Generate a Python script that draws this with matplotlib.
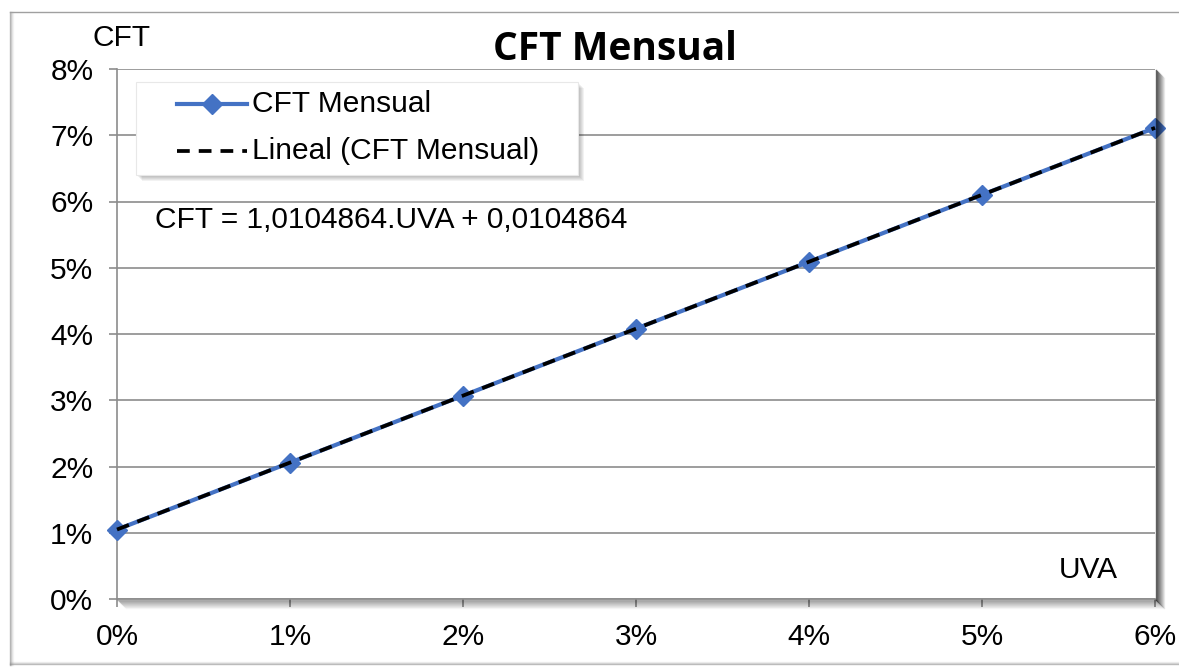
import matplotlib
matplotlib.use("Agg")
import matplotlib.pyplot as plt
from matplotlib.lines import Line2D
from matplotlib.patches import Rectangle
from matplotlib.ticker import FuncFormatter
import numpy as np

# data (values in %)
uva = [0, 1, 2, 3, 4, 5, 6]
cft = [1.0486, 2.0591, 3.0696, 4.0801, 5.0906, 6.1011, 7.1115]
series_name = "CFT Mensual"
trend_name = "Lineal (CFT Mensual)"
equation = "CFT = 1,0104864.UVA + 0,0104864"

plt.rcParams['font.family'] = ['Liberation Sans', 'DejaVu Sans']
FS = 21.5

W, H = 1179, 668
fig = plt.figure(figsize=(W / 100, H / 100), dpi=100)
fig.patch.set_facecolor("white")

def px(x, y):
    return x / W, 1 - y / H

# outer chart frame with soft shadow
for i, a in enumerate([0.55, 0.3, 0.15, 0.07]):
    fig.add_artist(Line2D([px(10 + i, 0)[0]] * 2, [px(0, 12)[1], px(0, 665)[1]],
                          transform=fig.transFigure, color="gray", alpha=a, lw=1))
fig.add_artist(Line2D([px(10, 0)[0], px(1179, 0)[0]], [px(0, 12)[1]] * 2,
                      transform=fig.transFigure, color="#a0a0a0", lw=1))
for i, a in enumerate([0.5, 0.25, 0.1]):
    fig.add_artist(Line2D([px(10, 0)[0], px(1179, 0)[0]], [px(0, 664 - i)[1]] * 2,
                          transform=fig.transFigure, color="gray", alpha=a, lw=1))

x0, x1, y0, y1 = 117, 1155, 69, 599
l, t = px(x0, y0)
r, b = px(x1, y1)
ax = fig.add_axes([l, b, r - l, t - b])

# plot area shadow (right and bottom)
for i in range(1, 10):
    a = 0.65 * (1 - i / 10)
    fig.add_artist(Line2D([px(x1 + i, 0)[0]] * 2, [px(0, y0 + i)[1], px(0, y1 + i)[1]],
                          transform=fig.transFigure, color="black", alpha=a, lw=1))
    fig.add_artist(Line2D([px(x0 + i, 0)[0], px(x1 + i, 0)[0]], [px(0, y1 + i)[1]] * 2,
                          transform=fig.transFigure, color="black", alpha=a * 0.5, lw=1))

# trend from data
k, c = np.polyfit(uva, cft, 1)
xt = np.array([uva[0], uva[-1]])

ax.plot(uva, cft, color="#4472C4", lw=3, marker="D", ms=10, zorder=3, clip_on=False)
ax.plot(xt, k * xt + c, color="black", lw=2.7, ls=(0, (3.4, 2.4)), zorder=4, clip_on=False)

ax.set_xlim(0, 6)
ax.set_ylim(0, 8)
ax.set_xticks(uva)
ax.set_yticks(range(0, 9))
pct = FuncFormatter(lambda v, p: "%d%%" % round(v))
ax.xaxis.set_major_formatter(pct)
ax.yaxis.set_major_formatter(pct)
ax.grid(True, axis="y", color="#8c8c8c", lw=1.2)
ax.set_axisbelow(True)
for s in ["top", "right"]:
    ax.spines[s].set_visible(False)
ax.spines["left"].set_color("#8c8c8c")
ax.spines["bottom"].set_color("#8c8c8c")
ax.spines["left"].set_linewidth(1.2)
ax.spines["bottom"].set_linewidth(1.2)
ax.tick_params(axis="both", colors="#8c8c8c", labelcolor="black", labelsize=FS,
               length=6, width=1.2, direction="out")
ax.tick_params(axis="y", pad=11)
ax.tick_params(axis="x", pad=11)

fig.text(615 / W, 1 - 50 / H, "CFT Mensual", ha="center", va="center",
         fontsize=28, fontweight="bold", family=["Open Sans", "DejaVu Sans"])
fig.text(93 / W, 1 - 38 / H, "CFT", ha="left", va="center", fontsize=FS)
fig.text(1118 / W, 1 - 570 / H, "UVA", ha="right", va="center", fontsize=FS)
fig.text(155 / W, 1 - 220 / H, equation, ha="left", va="center", fontsize=FS)

# legend box with shadow
lx0, ly0, lx1, ly1 = 136, 82, 578, 175
for i in range(1, 7):
    fig.add_artist(Rectangle(px(lx0 + i, ly1 + i), (lx1 - lx0) / W, (ly1 - ly0) / H,
                             transform=fig.transFigure, facecolor="black",
                             alpha=0.05, edgecolor="none", zorder=5))
fig.add_artist(Rectangle(px(lx0, ly1), (lx1 - lx0) / W, (ly1 - ly0) / H,
                         transform=fig.transFigure, facecolor="white",
                         edgecolor="#e8e8e8", lw=0.8, zorder=6))
hy1, hy2 = 104, 151
fig.add_artist(Line2D([px(177, 0)[0], px(247, 0)[0]], [px(0, hy1)[1]] * 2,
                      transform=fig.transFigure, color="#4472C4", lw=3, zorder=7))
fig.add_artist(Line2D([px(212, 0)[0]], [px(0, hy1)[1]], transform=fig.transFigure,
                      color="#4472C4", marker="D", ms=10, lw=0, zorder=8))
fig.add_artist(Line2D([px(177, 0)[0], px(247, 0)[0]], [px(0, hy2)[1]] * 2,
                      transform=fig.transFigure, color="black", lw=2.7,
                      ls=(0, (3.4, 2.4)), zorder=7))
fig.text(252 / W, 1 - hy1 / H, series_name, ha="left", va="center", fontsize=FS, zorder=8)
fig.text(252 / W, 1 - hy2 / H, trend_name, ha="left", va="center", fontsize=FS, zorder=8)

fig.savefig("out.png", dpi=100, facecolor="white")
